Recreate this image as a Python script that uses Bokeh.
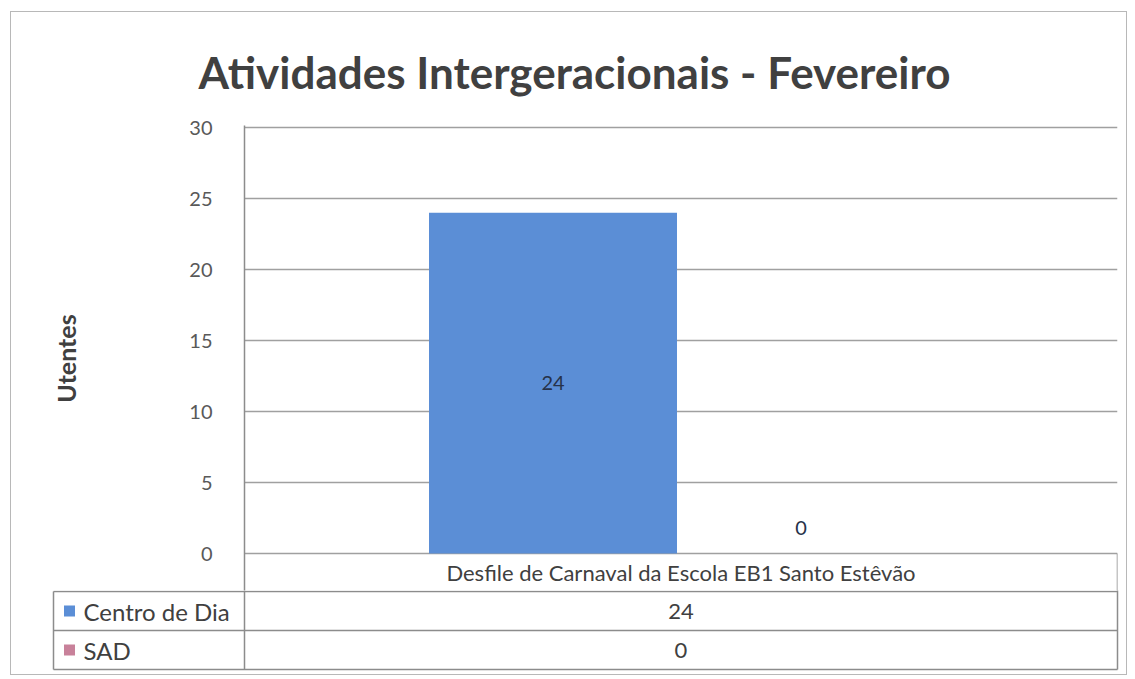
from bokeh.plotting import figure
from bokeh.models import (FactorRange, Range1d, FixedTicker, ColumnDataSource, Title,
                          LinearAxis)
from bokeh.transform import dodge
from bokeh.embed import file_html
from bokeh.resources import INLINE
from bokeh.core.properties import value

# ---- data ----
title_text = "Atividades Intergeracionais - Fevereiro"
y_label = "Utentes"
category = "Desfile de Carnaval da Escola EB1 Santo Estêvão"
series = ["Centro de Dia", "SAD"]
values = [24, 0]
colors = ["#5B8ED6", "#C8819A"]
y_ticks = [0, 5, 10, 15, 20, 25, 30]

FONT_NAME = "Lato"
FONT = value(FONT_NAME)
GRID = "#a0a0a0"
TABLE_LINE = "#8c8c8c"
BORDER = "1px solid #b8b8b8"

# layout constants (pixels)
px_per_unit = 14.2
header_h = 38
row_h = 39
legend_w = 191
plot_w = 873
bar_w = 248 / plot_w
top_pad = 2 / px_per_unit

# ---- chart (with the table header row below the zero line) ----
pa = figure(width=1117, height=579,
            x_range=FactorRange(category, range_padding=0),
            y_range=Range1d(-header_h / px_per_unit, max(y_ticks) + top_pad),
            output_backend="svg", toolbar_location=None,
            min_border_left=233, min_border_right=11,
            min_border_top=113, min_border_bottom=0,
            margin=(11, 0, 0, 10),
            styles={"border-left": BORDER, "border-top": BORDER,
                    "border-right": BORDER})
pa.title = Title(text=title_text, align="left", offset=-46,
                 text_font=FONT_NAME, text_font_size="44px", text_font_style="bold",
                 text_color="#404040", standoff=56, vertical_align="bottom")
pa.outline_line_color = None
pa.xaxis.visible = False
pa.xgrid.visible = False

ya = pa.yaxis[0]
ya.ticker = FixedTicker(ticks=y_ticks)
ya.major_tick_line_color = None
ya.minor_tick_line_color = None
ya.major_label_standoff = 26
ya.major_label_text_font = FONT_NAME
ya.major_label_text_font_size = "20px"
ya.major_label_text_color = "#595959"
ya.axis_line_color = TABLE_LINE
ya.axis_line_width = 1.5

# axis title on its own (line-less) axis
title_axis = LinearAxis(ticker=FixedTicker(ticks=[]),
                        axis_line_color=None, major_tick_line_color=None,
                        minor_tick_line_color=None,
                        axis_label=y_label, axis_label_standoff=106,
                        axis_label_text_font=FONT_NAME,
                        axis_label_text_font_size="25px",
                        axis_label_text_font_style="bold",
                        axis_label_text_color="#404040")
pa.add_layout(title_axis, "left")

pa.ygrid.ticker = FixedTicker(ticks=y_ticks)
pa.ygrid.grid_line_color = GRID
pa.ygrid.grid_line_width = 1.6

n = len(series)
for i, (s, v, c) in enumerate(zip(series, values, colors)):
    off = (i - (n - 1) / 2) * bar_w - 4 / plot_w
    src = ColumnDataSource(dict(x=[category], top=[v], label=[str(v)],
                                ly=[v / 2], yoff=[0 if v > 0 else -26]))
    pa.vbar(x=dodge("x", off, range=pa.x_range), top="top", width=bar_w,
            color=c, line_color=None, source=src)
    pa.text(x=dodge("x", off, range=pa.x_range), y="ly", text="label",
            y_offset="yoff", source=src,
            text_align="center", text_baseline="middle",
            text_font=FONT, text_font_size="20px", text_color="#26324a")

# header row of the data table
hy = -header_h / px_per_unit
pa.text(x=[category], y=[hy / 2], text=[category],
        text_align="center", text_baseline="middle",
        text_font=FONT, text_font_size="22px", text_color="#404040")
pa.segment(x0=[1.0], x1=[1.0], y0=[0], y1=[hy],
           line_color=TABLE_LINE, line_width=1.5)

# ---- data table rows ----
pb = figure(width=1117, height=85,
            x_range=Range1d(-legend_w - 3, plot_w + 3),
            y_range=Range1d(n + 2 / row_h, -1 / row_h),
            output_backend="svg", toolbar_location=None,
            min_border_left=39, min_border_right=8,
            min_border_top=0, min_border_bottom=4,
            margin=(0, 0, 0, 10),
            styles={"border-left": BORDER, "border-bottom": BORDER,
                    "border-right": BORDER})
pb.axis.visible = False
pb.grid.visible = False
pb.outline_line_color = None

row_ys = list(range(0, n + 1))
pb.segment(x0=[-legend_w] * len(row_ys), x1=[plot_w] * len(row_ys),
           y0=row_ys, y1=row_ys, line_color=TABLE_LINE, line_width=1.5)
pb.segment(x0=[0, -legend_w, plot_w], x1=[0, -legend_w, plot_w],
           y0=[-1, 0, -1], y1=[n, n, n],
           line_color=TABLE_LINE, line_width=1.5)

ry = [i + 0.5 for i in range(n)]
pb.scatter(x=[-legend_w + 16] * n, y=ry, marker="square", size=11,
           color=colors, line_color=None)
pb.text(x=[-legend_w + 30] * n, y=ry, text=series,
        text_align="left", text_baseline="middle",
        text_font=FONT, text_font_size="24px", text_color="#404040")
pb.text(x=[plot_w / 2] * n, y=ry, text=[str(v) for v in values],
        text_align="center", text_baseline="middle",
        text_font=FONT, text_font_size="22px", text_color="#404040")

open("out.html", "w").write(file_html([pa, pb], INLINE))
